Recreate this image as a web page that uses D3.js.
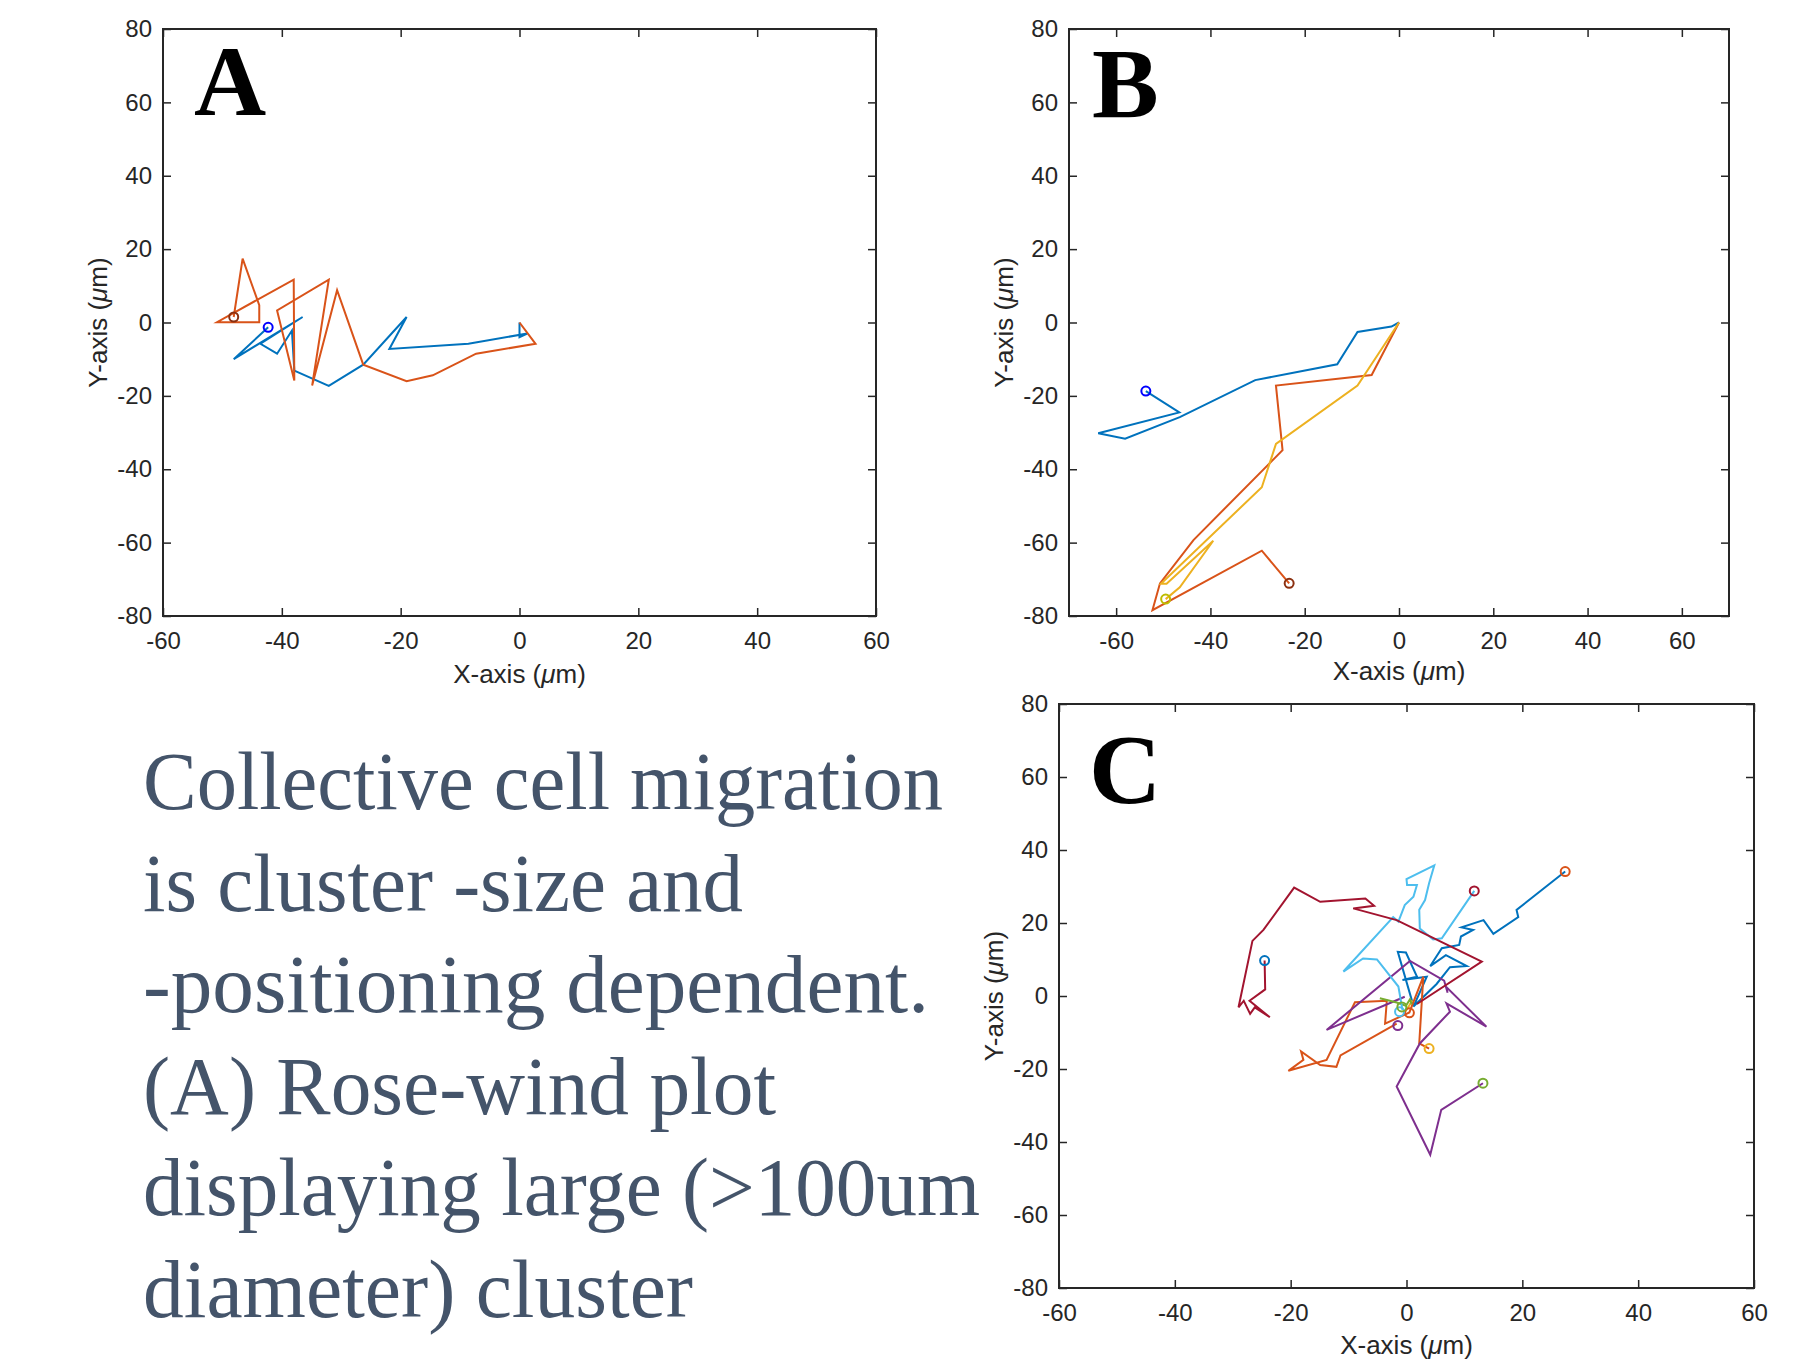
<!DOCTYPE html>
<html>
<head>
<meta charset="utf-8">
<script src="https://cdn.jsdelivr.net/npm/d3@7/dist/d3.min.js"></script>
<style>
    body { margin: 0; background: #ffffff; }
    .axis text { font-family: "Liberation Sans", Arial, sans-serif; font-size: 24px; fill: #262626; }
    .axis line { stroke: #262626; stroke-width: 1.5; }
    .axis path { display: none; }
</style>
</head>
<body>
<script>
"use strict";

// ---- data (microns), each track starts near the origin, circle marks the end ----
var xTicks = [-60, -40, -20, 0, 20, 40, 60];
var yTicks = [-80, -60, -40, -20, 0, 20, 40, 60, 80];

// panel A
var trackA_blue = [[0, 0], [0, -4], [1.3, -3], [-8.6, -5.8], [-21.9, -7.2], [-19.0, 1.5], [-26.3, -11.5],
    [-32.1, -17.3], [-37.9, -13.1], [-38.3, -2.2], [-40.8, -8.5], [-43.6, -5.8], [-36.5, 1.5],
    [-48.1, -10.0], [-42.3, -1.3]];
var trackA_orange = [[0, 0], [2.7, -5.8], [-7.3, -8.5], [-14.6, -14.4], [-19.0, -16.0], [-26.3, -11.5],
    [-30.7, 8.8], [-34.9, -17.2], [-32.1, 11.7], [-40.8, 3.3], [-37.9, -15.8], [-38.0, 11.7],
    [-50.9, 0.1], [-43.8, 0.1], [-43.8, 4.7], [-46.6, 17.4], [-48.1, 1.5]];
var endsA = [[-48.1, 1.5], [-42.3, -1.3]];

// panel B
var trackB_blue = [[0, 0], [-1.6, -1.1], [-8.8, -2.6], [-13.1, -11.4], [-30.5, -15.7], [-46.5, -25.8],
    [-58.1, -31.7], [-63.8, -30.2], [-46.6, -24.5], [-53.7, -18.7]];
var trackB_orange = [[0, 0], [-5.8, -14.3], [-26.1, -17.2], [-24.7, -34.8], [-43.6, -59.3], [-50.7, -71.1],
    [-52.3, -78.4], [-29.1, -62.2], [-23.3, -71.1]];
var trackB_yellow = [[0, 0], [-8.8, -17.2], [-26.1, -33.1], [-29.1, -44.9], [-50.5, -71.2], [-49.3, -71.2],
    [-39.4, -59.5], [-46.5, -72.2], [-49.5, -75.4]];
var endsB = [[-53.7, -18.7], [-23.3, -71.1], [-49.5, -75.4]];

// panel C
var trackC_blue = [[1.2, -2.7], [-1.5, 12.1], [-0.1, 11.9], [1.8, 5.3], [-0.7, 4.4], [3.5, 5.3], [1.2, -2.9],
    [5.2, 3.3], [7.5, 7.9], [10.4, 8.2], [6.8, 11.2], [4.1, 8.2], [6.1, 13.1], [9.1, 14.0], [9.4, 16.3],
    [11.5, 18.1], [9.5, 18.8], [13.3, 20.8], [15.0, 17.0], [19.3, 21.6], [19.0, 23.6], [27.4, 34.1]];
var trackC_orange = [[-1.7, -7.6], [-11.4, -16.3], [-12.1, -19.4], [-14.9, -18.9], [-18.2, -15.2],
    [-17.8, -17.5], [-20.4, -20.5], [-13.8, -17.5], [-8.9, -1.7], [-3.4, -1.3], [-3.7, -7.6], [0.5, -4.5],
    [2.9, 5.3], [2.2, -13.0], [3.9, -14.4]];
var trackC_yellow = [[-0.5, -5.0], [0.4, -2.8], [1.0, -1.2]];
var trackC_purple = [[-0.3, -0.2], [-13.8, -9.3], [0.6, 9.6], [6.5, 4.2], [7.1, 0.9], [6.8, 2.6], [13.8, -8.4],
    [6.9, -2.0], [7.5, -4.3], [2.3, -13.0], [-1.7, -24.8], [4.1, -43.5], [6.0, -31.2], [13.2, -23.9]];
var trackC_green = [[-4.6, -0.6], [-1.7, -1.8], [-0.1, -2.7], [0.6, -0.9], [0.9, -2.3]];
var trackC_cyan = [[-0.7, -3.8], [-1.4, 2.6], [-5.1, 10.0], [-7.5, 10.3], [-10.9, 6.7], [-2.3, 21.6],
    [-1.4, 20.4], [-0.3, 24.9], [1.2, 27.2], [1.8, 30.4], [0.1, 30.4], [0.0, 32.0], [4.8, 35.8], [3.9, 30.9],
    [3.2, 26.3], [2.2, 23.6], [2.3, 18.5], [4.6, 15.5], [6.1, 15.8], [11.7, 28.8]];
var trackC_darkred = [[1.8, -2.2], [13.0, 9.4], [-1.7, 20.8], [-9.2, 24.0], [-5.6, 24.7], [-7.1, 26.7],
    [-14.9, 25.8], [-19.4, 29.7], [-24.7, 18.1], [-26.6, 15.1], [-29.0, -3.1], [-28.1, -1.3], [-27.0, -4.9],
    [-26.2, -3.1], [-23.6, -5.8], [-27.1, -1.3], [-24.4, 1.8], [-24.5, 9.7]];
var endsC = [[-24.5, 9.7], [27.4, 34.1], [11.7, 28.8], [3.9, -14.4], [13.2, -23.9], [-1.5, -8.1],
    [0.5, -4.6], [-1.2, -4.3], [-0.8, -3.0]];

var captionLines = ["Collective cell migration", "is cluster -size and", "-positioning dependent.",
    "(A) Rose-wind plot", "displaying large (>100um", "diameter) cluster"];

// ---- styles ----
var matlab = {
    blue: "#0072BD", orange: "#D95319", yellow: "#EDB120", purple: "#7E2F8E",
    green: "#77AC30", cyan: "#4DBEEE", darkred: "#A2142F"
};

var svg = d3.select("body").append("svg")
    .attr("width", 1807)
    .attr("height", 1360);

var panels = [
    {
        letter: "A", left: 163, right: 876, top: 29, bottom: 616, xDomain: [-60, 60],
        letterX: 194, letterY: 115, xLabelDy: 67,
        tracks: [trackA_blue, trackA_orange],
        trackColors: [matlab.blue, matlab.orange],
        ends: endsA, endColors: ["#8B3010", "#0000FF"]
    },
    {
        letter: "B", left: 1069, right: 1729, top: 29, bottom: 616, xDomain: [-70, 70],
        letterX: 1092, letterY: 117, xLabelDy: 64,
        tracks: [trackB_blue, trackB_orange, trackB_yellow],
        trackColors: [matlab.blue, matlab.orange, matlab.yellow],
        ends: endsB, endColors: ["#0000FF", "#8B3010", "#BDBD00"]
    },
    {
        letter: "C", left: 1059, right: 1754, top: 704, bottom: 1288, xDomain: [-60, 60],
        letterX: 1089, letterY: 803, xLabelDy: 66,
        tracks: [trackC_blue, trackC_orange, trackC_yellow, trackC_purple, trackC_green, trackC_cyan, trackC_darkred],
        trackColors: [matlab.blue, matlab.orange, matlab.yellow, matlab.purple, matlab.green, matlab.cyan, matlab.darkred],
        ends: endsC,
        endColors: [matlab.blue, matlab.orange, matlab.darkred, matlab.yellow, matlab.green, matlab.purple,
            matlab.orange, matlab.cyan, matlab.green]
    }
];

function plain(d) { return String(d); }

function drawPanel(p) {
    var x = d3.scaleLinear().domain(p.xDomain).range([p.left, p.right]);
    var y = d3.scaleLinear().domain([-80, 80]).range([p.bottom, p.top]);
    var g = svg.append("g");

    // ticks point inwards on all four sides (matlab "box on")
    g.append("g").attr("class", "axis")
        .attr("transform", "translate(0," + p.bottom + ")")
        .call(d3.axisBottom(x).tickValues(xTicks).tickSizeInner(-8).tickSizeOuter(0).tickPadding(16).tickFormat(plain));
    g.append("g").attr("class", "axis")
        .attr("transform", "translate(0," + p.top + ")")
        .call(d3.axisTop(x).tickValues(xTicks).tickSizeInner(-8).tickSizeOuter(0).tickFormat(""));
    g.append("g").attr("class", "axis")
        .attr("transform", "translate(" + p.left + ",0)")
        .call(d3.axisLeft(y).tickValues(yTicks).tickSizeInner(-8).tickSizeOuter(0).tickPadding(11).tickFormat(plain));
    g.append("g").attr("class", "axis")
        .attr("transform", "translate(" + p.right + ",0)")
        .call(d3.axisRight(y).tickValues(yTicks).tickSizeInner(-8).tickSizeOuter(0).tickFormat(""));

    g.append("rect")
        .attr("x", p.left).attr("y", p.top)
        .attr("width", p.right - p.left).attr("height", p.bottom - p.top)
        .attr("fill", "none").attr("stroke", "#262626").attr("stroke-width", 2);

    var line = d3.line()
        .x(function (d) { return x(d[0]); })
        .y(function (d) { return y(d[1]); });

    g.append("g").selectAll("path")
        .data(p.tracks)
        .enter().append("path")
        .attr("d", line)
        .attr("fill", "none")
        .attr("stroke", function (d, i) { return p.trackColors[i]; })
        .attr("stroke-width", 2);

    g.append("g").selectAll("circle")
        .data(p.ends)
        .enter().append("circle")
        .attr("cx", function (d) { return x(d[0]); })
        .attr("cy", function (d) { return y(d[1]); })
        .attr("r", 4.5)
        .attr("fill", "none")
        .attr("stroke", function (d, i) { return p.endColors[i]; })
        .attr("stroke-width", 2);

    // axis labels
    var xl = g.append("text")
        .attr("x", (p.left + p.right) / 2)
        .attr("y", p.bottom + p.xLabelDy)
        .attr("text-anchor", "middle")
        .style("font-family", "'Liberation Sans', Arial, sans-serif")
        .style("font-size", "26px")
        .attr("fill", "#262626");
    xl.append("tspan").text("X-axis (");
    xl.append("tspan").style("font-style", "italic").text("\u03bc");
    xl.append("tspan").text("m)");

    var yl = g.append("text")
        .attr("transform", "translate(" + (p.left - 56) + "," + ((p.top + p.bottom) / 2) + ") rotate(-90)")
        .attr("text-anchor", "middle")
        .style("font-family", "'Liberation Sans', Arial, sans-serif")
        .style("font-size", "26px")
        .attr("fill", "#262626");
    yl.append("tspan").text("Y-axis (");
    yl.append("tspan").style("font-style", "italic").text("\u03bc");
    yl.append("tspan").text("m)");

    // panel letter
    g.append("text")
        .attr("x", p.letterX)
        .attr("y", p.letterY)
        .style("font-family", "'Liberation Serif', 'Times New Roman', serif")
        .style("font-weight", "bold")
        .style("font-size", "100px")
        .attr("fill", "#000")
        .text(p.letter);
}

panels.forEach(drawPanel);

// caption block, left bottom
var captionWidths = [800, 600, 786, 633, 837, 550];
svg.append("g").selectAll("text")
    .data(captionLines)
    .enter().append("text")
    .attr("x", 143)
    .attr("y", function (d, i) { return 809 + i * 101.6; })
    .attr("textLength", function (d, i) { return captionWidths[i]; })
    .attr("lengthAdjust", "spacingAndGlyphs")
    .style("font-family", "'Liberation Serif', 'Times New Roman', serif")
    .style("font-size", "82px")
    .attr("fill", "#44546A")
    .text(function (d) { return d; });
</script>
</body>
</html>
